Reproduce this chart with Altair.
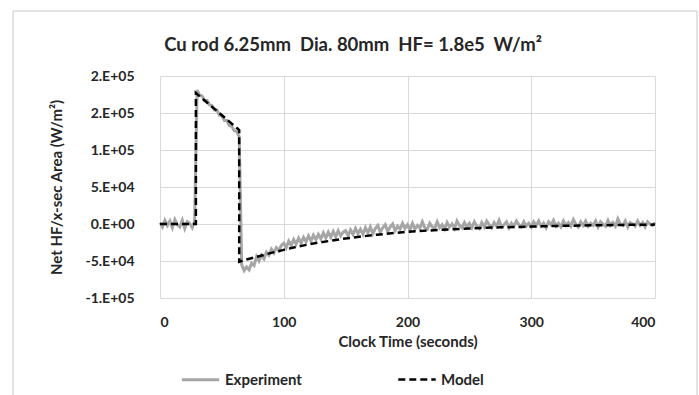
import altair as alt
import pandas as pd

# ---------------- data ----------------
TITLE = "Cu rod 6.25mm\u00a0 Dia. 80mm\u00a0 HF= 1.8e5\u00a0 W/m\u00b2"
X_TITLE = "Clock Time (seconds)"
Y_TITLE = "Net HF/x-sec Area (W/m\u00b2)"
SERIES = ["Experiment", "Model"]
X_TICKS = [0, 100, 200, 300, 400]
Y_TICKS = [-100000, -50000, 0, 50000, 100000, 150000, 200000]

# Experiment: sampled every 2 s from 0 to 400 s, values in kW/m^2
exp_time = list(range(0, 401, 2))
exp_kw = [
    2, -4, 5, -2, 4, -5, 6, -1, -4, 5, -6, 3, 1, -5, 4,
    181, 174, 173, 167, 167, 161, 160, 154, 154, 147, 146, 140, 140, 133, 132, 126, 125, 118,
    -55, -63, -58, -62, -53, -56, -44, -50, -42, -47, -38, -42, -34, -39, -32, -36, -29,
    -26, -32, -23, -29, -21, -27, -19, -26, -18, -24, -16, -23, -15, -21, -14, -20, -12, -19, -11, -18, -10, -17, -9, -16, -11,
    -9, -16, -8, -14, -6, -13, -7, -14, -5, -12, -4, -13, -6, -2, -11, -5, -1, -10, -4, 0, -9, -3, -7, 1, -6,
    -1, -8, 1, -7, -2, -6, 3, -5, -7, 1, -4, -6, 3, -5, -1, -7, 2, -4, 0, -6, 4, -2, -5, 2, -4,
    1, -5, 3, -3, -6, 2, -4, 4, -1, -5, 2, -3, 5, -4, -1, 3, -5, 1, -3, 4, -1, -4, 3, -3, 1,
    -4, 3, -2, 4, -3, 1, -5, 3, -1, 5, -3, 1, -4, 4, -2, 2, -3, 6, 0, -4, 3, -2, 4, -3, 1,
    -2, 4, -4, 3, 0, -3, 5, -2, 2, -3, 7, 0, -2, 4, -4, 2, 0, -3, 4, -2, 2, -4, 3, 0, -2, 2,
]

# Model: piecewise curve, values in W/m^2
model_time = [0, 29, 29, 64, 64, 70, 80, 90, 100, 110, 125, 150, 175, 200, 225, 250, 275, 300, 325, 350, 375, 400]
model_val = [0, 0, 177000, 127000, -51000, -48000, -43500, -39000, -35000, -31000, -26000, -19500,
             -14500, -10500, -8000, -6000, -4500, -3500, -2500, -1800, -1200, -800]

rows = []
i = 0
for t, v in zip(exp_time, exp_kw):
    rows.append({"t": t, "v": v * 1000, "series": "Experiment", "idx": i})
    i += 1
for t, v in zip(model_time, model_val):
    rows.append({"t": t, "v": v, "series": "Model", "idx": i})
    i += 1
df = pd.DataFrame(rows)

FONT = "Lato"
TXT = "#262626"

ylab = ("datum.value == 0 ? '0.E+00' : "
        "(round(datum.value / pow(10, floor(log(abs(datum.value)) / LN10 + 1e-9))) + '.E+' + "
        "(floor(log(abs(datum.value)) / LN10 + 1e-9) < 10 ? '0' : '') + "
        "floor(log(abs(datum.value)) / LN10 + 1e-9))")

leg = dict(title=None, orient="none", legendX=20, legendY=283,
           direction="horizontal", symbolType="stroke",
           symbolSize=1400, symbolStrokeWidth=2.5,
           labelFontSize=15, labelFont=FONT, labelFontWeight="bold",
           labelColor=TXT, columnPadding=91, labelOffset=4)

lines = alt.Chart(df).mark_line(strokeJoin="miter").encode(
    x=alt.X("t:Q", scale=alt.Scale(domain=[0, 400], nice=False),
            axis=alt.Axis(values=X_TICKS, title=X_TITLE, labelPadding=17, titlePadding=5,
                          grid=True, labelFontSize=14)),
    y=alt.Y("v:Q", scale=alt.Scale(domain=[-100000, 200000], nice=False),
            axis=alt.Axis(values=Y_TICKS, title=Y_TITLE, labelExpr=ylab, labelPadding=26,
                          titlePadding=20, grid=True, labelFontSize=14)),
    color=alt.Color("series:N", scale=alt.Scale(domain=SERIES, range=["#a6a6a6", "#000000"]),
                    legend=alt.Legend(**leg)),
    strokeDash=alt.StrokeDash("series:N", scale=alt.Scale(domain=SERIES, range=[[1, 0], [7, 4]]),
                              legend=alt.Legend(**leg)),
    strokeWidth=alt.StrokeWidth("series:N", scale=alt.Scale(domain=SERIES, range=[3, 2.5]), legend=None),
    order=alt.Order("idx:Q"),
)

border = alt.Chart(pd.DataFrame({"a": [0]})).mark_rect(fill=None, stroke="#c8c8c8", strokeWidth=1).encode(
    x=alt.value(-147), x2=alt.value(537), y=alt.value(-65), y2=alt.value(330)
)

title = alt.Chart(pd.DataFrame({"label": [TITLE]})).mark_text(
    font=FONT, fontSize=18.5, fontWeight="bold", color=TXT, align="center", baseline="middle"
).encode(x=alt.value(193), y=alt.value(-31), text="label:N")

chart = alt.layer(border, lines, title).properties(
    width=495, height=222,
    padding={"left": 160, "top": 76, "right": 44, "bottom": 97},
    autosize=alt.AutoSizeParams(type="none"),
).configure_view(stroke=None).configure_axis(
    labelFont=FONT, titleFont=FONT, labelFontWeight="bold", titleFontWeight="bold",
    labelColor=TXT, titleColor=TXT, titleFontSize=15, gridColor="#d9d9d9", gridWidth=1,
    domain=False, ticks=False,
)

chart.save("out.html", embed_options={"renderer": "svg", "actions": False})
